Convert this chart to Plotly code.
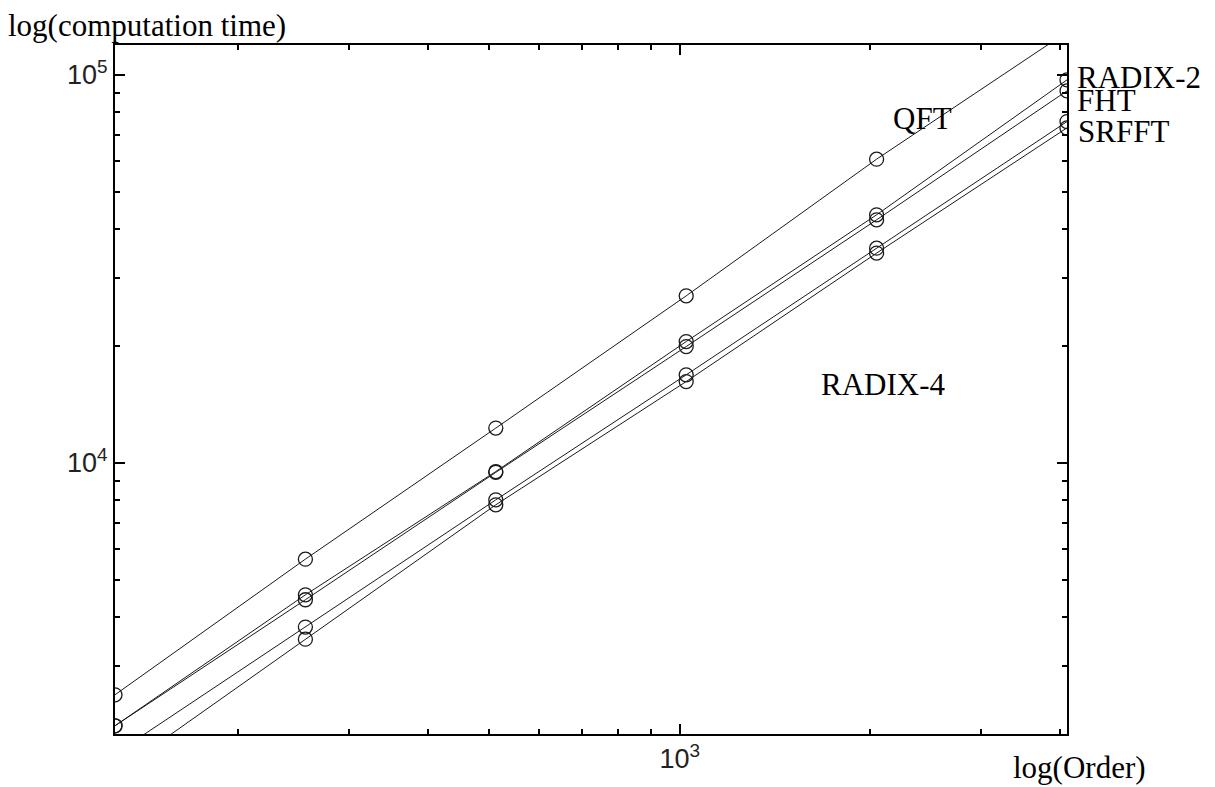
import plotly.graph_objects as go
import numpy as np

# ---------------- data ----------------
orders = [128, 256, 512, 1024, 2048, 4096]
qft = [2524, 5646, 12290, 26940, 60630, 129000]
radix2 = [2100, 4568, 9497, 20540, 43580, 97070]
fht = [2100, 4437, 9450, 19940, 42300, 90960]
srfft = [1778, 3772, 8027, 16860, 35760, 75780]
radix4 = [1579, 3512, 7794, 16200, 34720, 73000]
series = [("QFT", qft), ("RADIX-2", radix2), ("FHT", fht),
          ("SRFFT", srfft), ("RADIX-4", radix4)]

y_major = [1e4, 1e5]
y_major_text = ["10<sup>4</sup>", "10<sup>5</sup>"]
y_minor = [3000, 4000, 5000, 6000, 7000, 8000, 9000,
           20000, 30000, 40000, 50000, 60000, 70000, 80000, 90000]
x_major = [1000]
x_major_text = ["10<sup>3</sup>"]
x_minor = [200, 300, 400, 500, 600, 700, 800, 900, 2000, 3000, 4000]

# ---------------- figure ----------------
W, H = 1215, 787
OFF = 8  # page body margin of the html page
PX0, PX1, PY0, PY1 = 115, 1067, 45, 734  # plot area in window pixels
L = PX0 - OFF
T = PY0 - OFF
R = W - PX1
B = H - PY1


def px(x):
    return (x - PX0) / (PX1 - PX0)


def py(y):
    return (PY1 - y) / (PY1 - PY0)


fig = go.Figure()
for name, vals in series:
    fig.add_trace(go.Scatter(
        x=orders, y=vals, name=name, mode="lines+markers",
        line=dict(color="#1a1a1a", width=1),
        marker=dict(symbol="circle-open", size=14,
                    line=dict(color="#1a1a1a", width=1.3)),
        showlegend=False,
    ))

tick_font = dict(family="Liberation Sans, Arial, sans-serif", size=27, color="#222")
axis_common = dict(
    type="log", showgrid=False, zeroline=False,
    showline=True, linecolor="black", linewidth=2, mirror="ticks",
    ticks="inside", ticklen=10, tickwidth=1.5, tickcolor="black",
    tickmode="array", tickfont=tick_font,
)

fig.update_xaxes(
    **axis_common,
    range=[np.log10(128), np.log10(4096)],
    tickvals=x_major, ticktext=x_major_text,
    minor=dict(tickmode="array", tickvals=x_minor, ticks="inside",
               ticklen=5, tickwidth=1.5, tickcolor="black", showgrid=False),
)
fig.update_yaxes(
    **axis_common,
    range=[np.log10(2000), 5.077],
    tickvals=y_major, ticktext=y_major_text,
    minor=dict(tickmode="array", tickvals=y_minor, ticks="inside",
               ticklen=5, tickwidth=1.5, tickcolor="black", showgrid=False),
)

serif = dict(family="Liberation Serif, Times New Roman, serif", size=31, color="black")
labels = [
    ("log(computation time)", 6, 25),
    ("log(Order)", 1011, 767),
    ("QFT", 891, 118),
    ("RADIX-2", 1075, 78),
    ("FHT", 1075, 101),
    ("SRFFT", 1076, 131),
    ("RADIX-4", 819, 384),
]
for text, x, y in labels:
    fig.add_annotation(text=text, xref="paper", yref="paper",
                       x=px(x), y=py(y), xanchor="left", yanchor="middle",
                       showarrow=False, font=serif)

fig.update_layout(
    width=W - OFF, height=H - OFF,
    margin=dict(l=L, r=R, t=T, b=B),
    paper_bgcolor="white", plot_bgcolor="white",
)

fig.write_html("out.html")
